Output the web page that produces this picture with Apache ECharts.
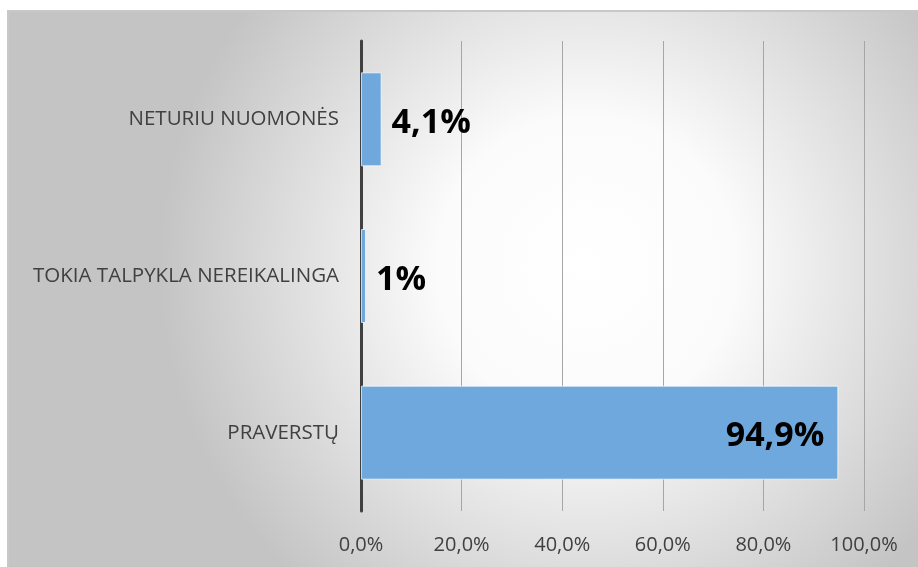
<!DOCTYPE html>
<html>
<head>
<meta charset="utf-8">
<script src="https://cdn.jsdelivr.net/npm/echarts@6/dist/echarts.min.js"></script>
<style>
  html, body { margin: 0; padding: 0; background: #fff; }
  #chart { width: 918px; height: 567px; }
</style>
</head>
<body>
<div id="chart"></div>
<script>
// duomenys (nuo apačios į viršų)
const categories = ['PRAVERSTŲ', 'TOKIA TALPYKLA NEREIKALINGA', 'NETURIU NUOMONĖS'];
const values = [94.9, 1, 4.1];
const valueLabels = ['94,9%', '1%', '4,1%'];
const xTicks = [0, 20, 40, 60, 80, 100];

const chart = echarts.init(document.getElementById('chart'));

const font = '"Open Sans", "Liberation Sans", sans-serif';

const option = {
  animation: false,
  backgroundColor: '#ffffff',
  graphic: [
    {
      type: 'rect',
      z: -10,
      silent: true,
      shape: { x: 8, y: 11, width: 918, height: 567 },
      style: {
        fill: {
          type: 'radial',
          x: 0.63, y: 0.45, r: 0.75,
          colorStops: [
            { offset: 0, color: '#ffffff' },
            { offset: 0.35, color: '#fbfbfb' },
            { offset: 1, color: '#c4c4c4' }
          ]
        },
        stroke: '#c8c8c8',
        lineWidth: 2
      }
    }
  ],
  grid: { left: 361, right: 54, top: 41, bottom: 56 },
  xAxis: {
    type: 'value',
    min: 0,
    max: 100,
    interval: 20,
    axisLine: { show: false },
    axisTick: { show: false },
    splitLine: { show: true, lineStyle: { color: '#a6a6a6', width: 1 } },
    axisLabel: {
      margin: 24,
      color: '#404040',
      fontSize: 20,
      fontFamily: font,
      formatter: v => xTicks.includes(v) ? v.toFixed(1).replace('.', ',') + '%' : ''
    }
  },
  yAxis: {
    type: 'category',
    data: categories,
    axisLine: { show: true, lineStyle: { color: '#404040', width: 3 } },
    axisTick: { show: false },
    axisLabel: {
      margin: 22,
      color: '#404040',
      fontSize: 20.5,
      fontFamily: font
    }
  },
  series: [
    {
      type: 'bar',
      barWidth: '60%',
      data: values.map((v, i) => ({
        value: v,
        label: i === 0
          ? { position: 'insideRight', distance: 14 }
          : { position: 'right', distance: 10 }
      })),
      itemStyle: {
        color: '#6fa8dc',
        borderColor: 'rgba(255,255,255,0.7)',
        borderWidth: 1
      },
      label: {
        show: true,
        color: '#000',
        fontSize: 34,
        fontWeight: 'bold',
        fontFamily: font,
        offset: [0, 4],
        formatter: p => valueLabels[p.dataIndex]
      }
    }
  ]
};

chart.setOption(option);
</script>
</body>
</html>
